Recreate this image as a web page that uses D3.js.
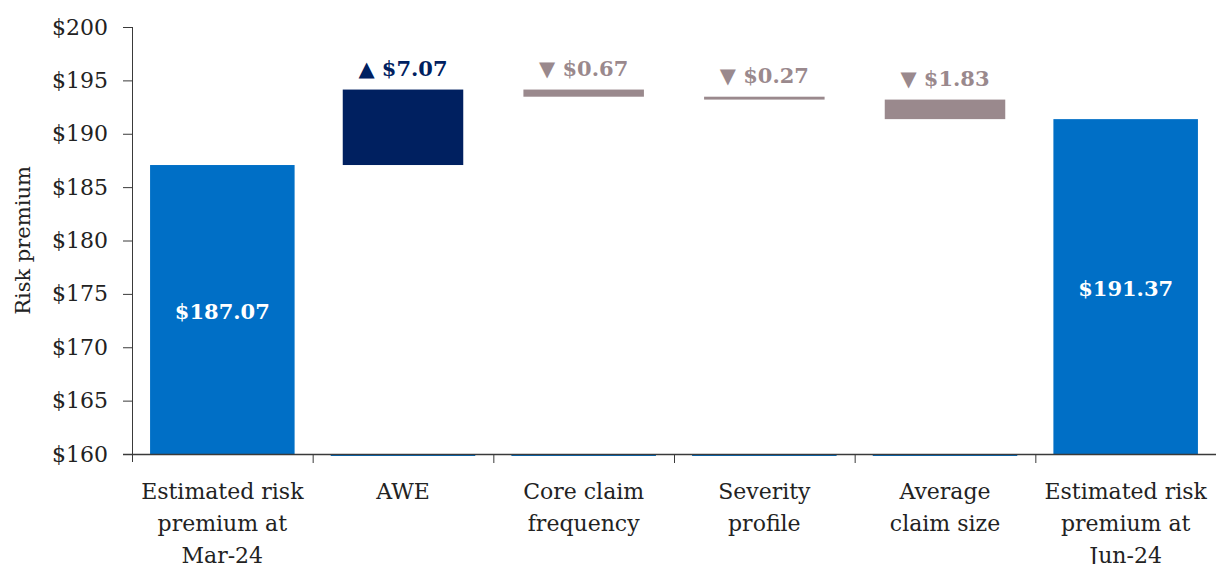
<!DOCTYPE html>
<html>
<head>
<meta charset="utf-8">
<script src="https://cdn.jsdelivr.net/npm/d3@7"></script>
<style>
  body { margin: 0; background: #fff; }
  svg { font-family: "DejaVu Serif", serif; }
</style>
</head>
<body>
<div id="vis"></div>
<script>
// Data
const CATEGORIES = [
    ["Estimated risk", "premium at", "Mar-24"],
    ["AWE"],
    ["Core claim", "frequency"],
    ["Severity", "profile"],
    ["Average", "claim size"],
    ["Estimated risk", "premium at", "Jun-24"]
];
const START_VALUE = 187.07;
const CHANGES = [7.07, -0.67, -0.27, -1.83];
const END_VALUE = 191.37;
const Y_TICKS = [160, 165, 170, 175, 180, 185, 190, 195, 200];

// Constants
const FRAME_WIDTH = 1216;
const FRAME_HEIGHT = 564;
const MARGINS = { left: 132, right: 0, top: 27, bottom: 110 };
const VIS_WIDTH = FRAME_WIDTH - MARGINS.left - MARGINS.right;
const VIS_HEIGHT = FRAME_HEIGHT - MARGINS.top - MARGINS.bottom;

const BLUE = "#006fc6";
const NAVY = "#002060";
const GREY = "#9a898d";
const AXIS = "#3a3a3a";

// build waterfall steps
let steps = [];
steps.push({ i: 0, lo: 160, hi: START_VALUE, type: "total", value: START_VALUE });
let running = START_VALUE;
CHANGES.forEach((c, k) => {
    let next = running + c;
    steps.push({ i: k + 1, lo: Math.min(running, next), hi: Math.max(running, next),
        type: c >= 0 ? "up" : "down", value: c });
    running = next;
});
steps.push({ i: CATEGORIES.length - 1, lo: 160, hi: END_VALUE, type: "total", value: END_VALUE });

const FRAME = d3.select("#vis")
    .append("svg")
    .attr("width", FRAME_WIDTH)
    .attr("height", FRAME_HEIGHT);

const X_SCALE = d3.scaleBand()
    .domain(d3.range(CATEGORIES.length))
    .range([MARGINS.left, MARGINS.left + VIS_WIDTH])
    .paddingInner(0)
    .paddingOuter(0);

const Y_SCALE = d3.scaleLinear()
    .domain([160, 200])
    .range([MARGINS.top + VIS_HEIGHT, MARGINS.top]);

const BW = X_SCALE.bandwidth();
const TOTAL_W = BW * 0.8;
const FLOAT_W = BW * 0.667;

// thin base lines of the hidden series
FRAME.selectAll(".base")
    .data(steps.filter(d => d.type !== "total"))
    .enter()
    .append("rect")
    .attr("x", d => X_SCALE(d.i) + (BW - TOTAL_W) / 2)
    .attr("y", Y_SCALE(160))
    .attr("width", TOTAL_W)
    .attr("height", 2)
    .attr("fill", BLUE);

// bars
FRAME.selectAll(".bar")
    .data(steps)
    .enter()
    .append("rect")
    .attr("x", d => {
        let w = d.type === "total" ? TOTAL_W : FLOAT_W;
        return X_SCALE(d.i) + (BW - w) / 2;
    })
    .attr("y", d => Y_SCALE(d.hi))
    .attr("width", d => d.type === "total" ? TOTAL_W : FLOAT_W)
    .attr("height", d => Y_SCALE(d.lo) - Y_SCALE(d.hi))
    .attr("fill", d => d.type === "total" ? BLUE : (d.type === "up" ? NAVY : GREY));

// labels inside totals
FRAME.selectAll(".tot-label")
    .data(steps.filter(d => d.type === "total"))
    .enter()
    .append("text")
    .attr("x", d => X_SCALE(d.i) + BW / 2)
    .attr("y", d => (Y_SCALE(d.lo) + Y_SCALE(d.hi)) / 2)
    .attr("dy", "0.45em")
    .attr("text-anchor", "middle")
    .attr("font-size", "21px")
    .attr("font-weight", "bold")
    .attr("fill", "#fff")
    .text(d => "$" + d.value.toFixed(2));

// labels above changes
FRAME.selectAll(".chg-label")
    .data(steps.filter(d => d.type !== "total"))
    .enter()
    .append("text")
    .attr("x", d => X_SCALE(d.i) + BW / 2)
    .attr("y", d => Y_SCALE(d.hi) - 14)
    .attr("text-anchor", "middle")
    .attr("font-size", "21px")
    .attr("font-weight", "bold")
    .attr("fill", d => d.type === "up" ? NAVY : GREY)
    .text(d => (d.type === "up" ? "\u25B2 $" : "\u25BC $") + Math.abs(d.value).toFixed(2));

// y axis
const yAxis = FRAME.append("g")
    .attr("transform", "translate(" + MARGINS.left + ",0)")
    .call(d3.axisLeft(Y_SCALE).tickValues(Y_TICKS).tickSize(9).tickPadding(15)
        .tickFormat(d => "$" + d));
yAxis.select(".domain").attr("stroke", AXIS).attr("d",
    "M0.5," + Y_SCALE(200) + "V" + (Y_SCALE(160) + 8));
yAxis.selectAll(".tick line").attr("stroke", AXIS);
yAxis.selectAll("text").attr("font-size", "22px").attr("fill", "#222")
    .attr("font-family", "DejaVu Serif");

// x axis
const xg = FRAME.append("g");
xg.append("line")
    .attr("x1", MARGINS.left - 9).attr("x2", FRAME_WIDTH)
    .attr("y1", Y_SCALE(160) + 0.5).attr("y2", Y_SCALE(160) + 0.5)
    .attr("stroke", AXIS).attr("stroke-width", 1.3);
xg.selectAll(".xtick")
    .data(d3.range(1, CATEGORIES.length))
    .enter()
    .append("line")
    .attr("x1", d => X_SCALE(d) + 0.5).attr("x2", d => X_SCALE(d) + 0.5)
    .attr("y1", Y_SCALE(160)).attr("y2", Y_SCALE(160) + 9)
    .attr("stroke", AXIS);

// category labels
const catLabels = xg.selectAll(".cat")
    .data(CATEGORIES)
    .enter()
    .append("text")
    .attr("text-anchor", "middle")
    .attr("font-size", "22px")
    .attr("fill", "#222");
catLabels.selectAll("tspan")
    .data((d, i) => d.map(line => ({ line: line, i: i })))
    .enter()
    .append("tspan")
    .attr("x", d => X_SCALE(d.i) + BW / 2)
    .attr("y", (d, k) => 499 + k * 32)
    .text(d => d.line);

// y axis title
FRAME.append("text")
    .attr("transform", "translate(30," + (MARGINS.top + VIS_HEIGHT / 2) + ") rotate(-90)")
    .attr("text-anchor", "middle")
    .attr("font-size", "21px")
    .attr("fill", "#222")
    .text("Risk premium");
</script>
</body>
</html>
